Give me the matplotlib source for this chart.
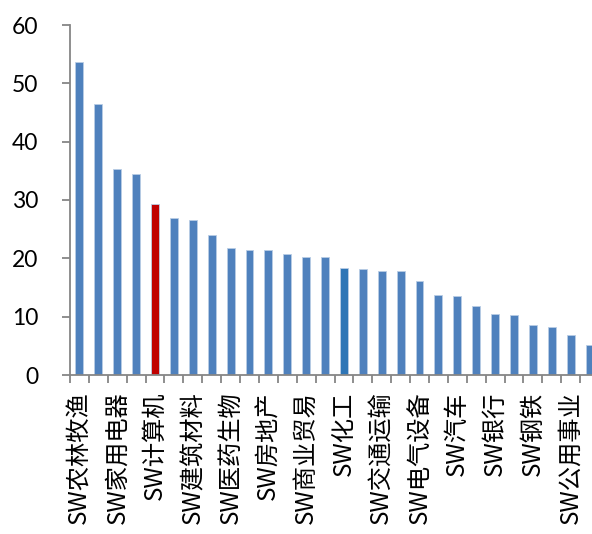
import matplotlib
matplotlib.use('Agg')
import matplotlib.pyplot as plt
import numpy as np

# industries (every other one is labelled on the axis)
industries = ['SW农林牧渔', 'SW国防军工', 'SW家用电器', 'SW休闲服务', 'SW计算机', 'SW传媒',
              'SW建筑材料', 'SW电子', 'SW医药生物', 'SW通信', 'SW房地产', 'SW综合',
              'SW商业贸易', 'SW轻工制造', 'SW化工', 'SW纺织服装', 'SW交通运输', 'SW有色金属',
              'SW电气设备', 'SW机械设备', 'SW汽车', 'SW食品饮料', 'SW银行', 'SW建筑装饰',
              'SW钢铁', 'SW非银金融', 'SW公用事业', 'SW采掘']
values = [53.6, 46.4, 35.3, 34.5, 29.3, 27.0, 26.6, 24.0, 21.8, 21.5, 21.5, 20.7,
          20.3, 20.2, 18.3, 18.1, 17.8, 17.8, 16.1, 13.7, 13.6, 11.8, 10.5, 10.3,
          8.6, 8.3, 6.8, 5.1]
highlight = {'SW计算机': '#C00000', 'SW化工': '#2E75B6'}
yticks = [0, 10, 20, 30, 40, 50, 60]

base_color = '#4F81BD'
colors = [highlight.get(n, base_color) for n in industries]

fig = plt.figure(figsize=(5.92, 5.34), dpi=100)
ax = fig.add_axes([70/592, 159/534, 529/592, 350/534])

x = np.arange(len(industries))
ax.bar(x, values, width=0.42, color=colors, edgecolor='#B9CDE5', linewidth=0.6, zorder=2)

ax.set_xlim(-0.5, len(industries) - 0.5)
ax.set_ylim(0, 60)
ax.set_yticks(yticks)
ax.set_yticklabels([str(t) for t in yticks], family='Lato', fontsize=16.5)

# labels on even bars, tick marks at category boundaries
ax.set_xticks(x[::2])
ax.set_xticklabels(industries[::2], rotation=90, family=['Noto Sans CJK SC', 'DejaVu Sans'],
                   fontsize=17.5, va='top', ha='center')
ax.set_xticks(np.arange(-0.5, len(industries)), minor=True)
ax.tick_params(axis='x', which='major', length=0, pad=12)
ax.tick_params(axis='x', which='minor', length=6, width=1.3, color='#868686', direction='out')
ax.tick_params(axis='y', length=6, width=1.3, color='#868686', direction='out', pad=17)

for s in ['top', 'right']:
    ax.spines[s].set_visible(False)
for s in ['left', 'bottom']:
    ax.spines[s].set_color('#868686')
    ax.spines[s].set_linewidth(1.3)

fig.savefig('out.png', dpi=100)
